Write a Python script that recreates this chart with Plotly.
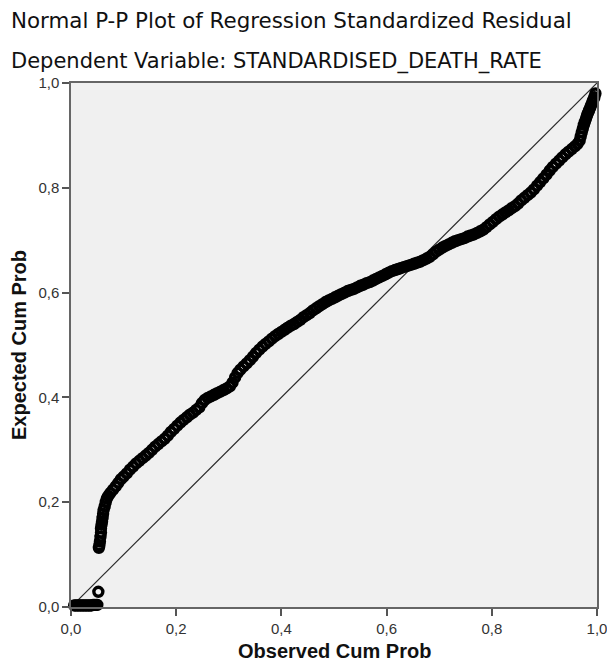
import plotly.graph_objects as go

title_line1 = "Normal P-P Plot of Regression Standardized Residual"
title_line2 = "Dependent Variable: STANDARDISED_DEATH_RATE"
x_title = "Observed Cum Prob"
y_title = "Expected Cum Prob"

tick_vals = [0.0, 0.2, 0.4, 0.6, 0.8, 1.0]

# points whose expected cum prob is ~0 (lowest residuals)
low_observed = [0.006, 0.009, 0.012, 0.015, 0.018, 0.021, 0.024, 0.027, 0.030,
                0.033, 0.036, 0.039, 0.042, 0.045, 0.048, 0.050]
low_expected = [0.003, 0.003, 0.003, 0.003, 0.003, 0.003, 0.003, 0.003, 0.003,
                0.003, 0.003, 0.003, 0.004, 0.004, 0.004, 0.004]

# isolated point
mid_observed = [0.052]
mid_expected = [0.029]

# main body of the P-P curve
main_observed = [
    0.053, 0.054, 0.055, 0.056, 0.057, 0.057, 0.058, 0.059, 0.060, 0.061,
    0.062, 0.064, 0.066, 0.068, 0.071, 0.075, 0.080, 0.085, 0.090, 0.095,
    0.100, 0.106, 0.112, 0.118, 0.124, 0.130, 0.136, 0.142, 0.148, 0.154,
    0.160, 0.166, 0.172, 0.178, 0.184, 0.190, 0.196, 0.202, 0.208, 0.214,
    0.220, 0.226, 0.232, 0.238, 0.244, 0.249, 0.254, 0.260, 0.266, 0.272,
    0.278, 0.284, 0.290, 0.296, 0.302, 0.307, 0.312, 0.317, 0.322, 0.328,
    0.334, 0.340, 0.346, 0.352, 0.358, 0.364, 0.370, 0.376, 0.382, 0.388,
    0.394, 0.400, 0.406, 0.412, 0.418, 0.424, 0.430, 0.436, 0.442, 0.448,
    0.454, 0.460, 0.466, 0.472, 0.478, 0.484, 0.490, 0.496, 0.502, 0.508,
    0.514, 0.520, 0.526, 0.532, 0.538, 0.544, 0.550, 0.556, 0.562, 0.568,
    0.574, 0.580, 0.586, 0.592, 0.598, 0.604, 0.610, 0.616, 0.622, 0.628,
    0.634, 0.640, 0.646, 0.652, 0.658, 0.664, 0.670, 0.676, 0.682, 0.688,
    0.694, 0.700, 0.706, 0.712, 0.718, 0.724, 0.730, 0.736, 0.742, 0.748,
    0.754, 0.760, 0.766, 0.772, 0.778, 0.784, 0.790, 0.796, 0.802, 0.808,
    0.814, 0.820, 0.826, 0.832, 0.838, 0.844, 0.850, 0.856, 0.862, 0.868,
    0.874, 0.880, 0.886, 0.892, 0.898, 0.904, 0.910, 0.916, 0.922, 0.928,
    0.934, 0.940, 0.946, 0.952, 0.958, 0.963, 0.967, 0.969, 0.971, 0.973,
    0.975, 0.977, 0.979, 0.981, 0.983, 0.985, 0.987, 0.989, 0.991, 0.993,
    0.995, 0.997,
]
main_expected = [
    0.113, 0.118, 0.125, 0.134, 0.142, 0.150, 0.157, 0.163, 0.170, 0.178,
    0.185, 0.192, 0.200, 0.207, 0.212, 0.218, 0.224, 0.230, 0.237, 0.244,
    0.249, 0.255, 0.262, 0.268, 0.274, 0.279, 0.284, 0.289, 0.294, 0.300,
    0.306, 0.311, 0.316, 0.321, 0.327, 0.334, 0.340, 0.346, 0.352, 0.357,
    0.362, 0.367, 0.371, 0.376, 0.381, 0.389, 0.395, 0.399, 0.402, 0.405,
    0.408, 0.411, 0.414, 0.417, 0.421, 0.428, 0.438, 0.447, 0.453, 0.459,
    0.465, 0.471, 0.478, 0.485, 0.491, 0.497, 0.502, 0.507, 0.512, 0.517,
    0.521, 0.525, 0.529, 0.533, 0.537, 0.540, 0.544, 0.548, 0.553, 0.557,
    0.561, 0.566, 0.570, 0.574, 0.578, 0.582, 0.585, 0.588, 0.591, 0.594,
    0.597, 0.600, 0.603, 0.605, 0.607, 0.610, 0.613, 0.615, 0.618, 0.620,
    0.623, 0.626, 0.629, 0.632, 0.635, 0.638, 0.641, 0.643, 0.645, 0.647,
    0.649, 0.651, 0.653, 0.655, 0.657, 0.659, 0.662, 0.665, 0.668, 0.673,
    0.678, 0.682, 0.686, 0.689, 0.692, 0.695, 0.698, 0.700, 0.702, 0.704,
    0.707, 0.709, 0.711, 0.714, 0.717, 0.720, 0.725, 0.730, 0.735, 0.740,
    0.745, 0.749, 0.753, 0.757, 0.761, 0.765, 0.770, 0.776, 0.781, 0.786,
    0.791, 0.797, 0.804, 0.811, 0.818, 0.825, 0.833, 0.840, 0.846, 0.852,
    0.858, 0.864, 0.869, 0.874, 0.879, 0.884, 0.890, 0.898, 0.906, 0.913,
    0.920, 0.926, 0.932, 0.938, 0.943, 0.948, 0.953, 0.958, 0.963, 0.968,
    0.973, 0.980,
]

observed = low_observed + mid_observed + main_observed
expected = low_expected + mid_expected + main_expected

diag = [0.0, 1.0]

fig = go.Figure()
fig.add_trace(go.Scatter(
    x=diag, y=diag, mode="lines",
    line=dict(color="#2a2a2a", width=1.2),
    hoverinfo="skip", showlegend=False,
))
fig.add_trace(go.Scatter(
    x=observed, y=expected, mode="markers",
    marker=dict(symbol="circle-open", size=9, color="#000000",
                line=dict(width=3.4, color="#000000")),
    cliponaxis=False, showlegend=False,
))

FONT = "Liberation Sans, Arial, sans-serif"
TFONT = "DejaVu Sans, Liberation Sans, sans-serif"
W, H = 607, 668
L, T = 71, 83
PW, PH = 526, 524
R = W - L - PW
B = H - T - PH


def px_x(p):
    return (p - L) / PW


def px_y(p):
    return (T + PH - p) / PH


axis_style = dict(
    range=[0, 1], tickvals=tick_vals, tickformat=".1f",
    showgrid=False, zeroline=False, automargin=False,
    showline=True, linecolor="#666666", linewidth=1.5, mirror=True,
    ticks="outside", ticklen=7, tickwidth=1.5, tickcolor="#555555",
    ticklabeloverflow="allow",
    tickfont=dict(size=15, family=FONT, color="#333333"),
)

fig.update_layout(
    width=W, height=H,
    margin=dict(l=L, r=R, t=T, b=B),
    paper_bgcolor="white",
    plot_bgcolor="#f0f0f0",
    separators=",.",
    font=dict(family=FONT, color="#222222"),
    xaxis=axis_style,
    yaxis=axis_style,
    annotations=[
        dict(text=title_line1, xref="paper", yref="paper",
             x=px_x(9), y=px_y(20), xanchor="left", yanchor="middle",
             showarrow=False, font=dict(size=21.4, family=TFONT, color="#111111")),
        dict(text=title_line2, xref="paper", yref="paper",
             x=px_x(9), y=px_y(61), xanchor="left", yanchor="middle",
             showarrow=False, font=dict(size=21, family=TFONT, color="#111111")),
        dict(text="<b>" + x_title + "</b>", xref="paper", yref="paper",
             x=0.5, y=px_y(651), xanchor="center", yanchor="middle",
             showarrow=False, font=dict(size=20, family=FONT, color="#111111")),
        dict(text="<b>" + y_title + "</b>", xref="paper", yref="paper",
             x=px_x(19), y=0.5, xanchor="center", yanchor="middle",
             textangle=-90,
             showarrow=False, font=dict(size=20, family=FONT, color="#111111")),
    ],
)

fig.write_html(
    "out.html",
    config={"responsive": False, "displayModeBar": False},
    post_script="document.body.style.margin='0px';"
                "document.body.style.padding='0px';"
                "document.body.style.overflow='hidden';",
)
